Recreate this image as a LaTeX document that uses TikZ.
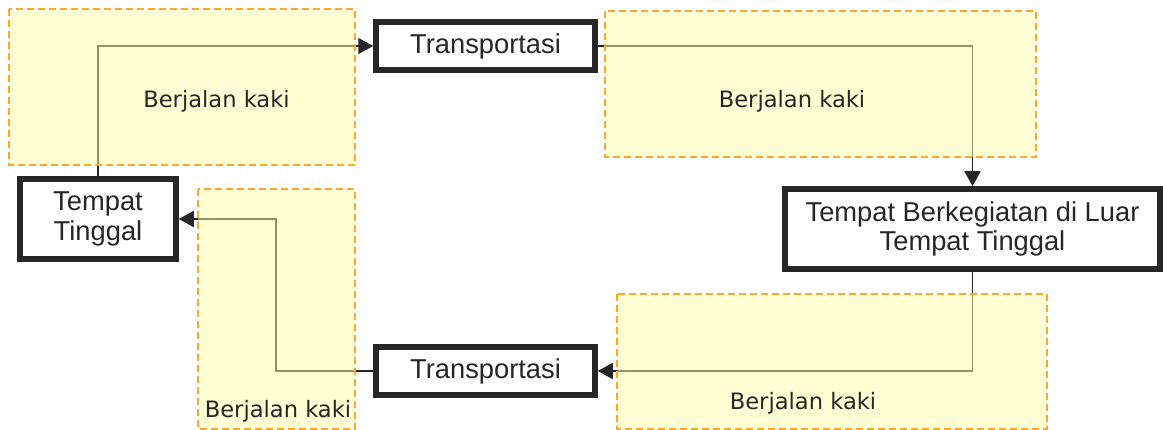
\documentclass[tikz,border=0pt]{standalone}
\usepackage{fontspec}
\setmainfont{Liberation Sans}
\newfontfamily\walkfont{DejaVu Sans}
\usetikzlibrary{arrows.meta}

\definecolor{ink}{HTML}{262626}
\definecolor{dashorange}{HTML}{FFA530}
\definecolor{walkfill}{HTML}{FFFFAA}

\pgfdeclarelayer{lines}
\pgfdeclarelayer{zones}
\pgfsetlayers{lines,zones,main}

\tikzset{
  stage/.style={draw=ink, line width=5.5pt, fill=white, text=ink,
    font=\fontsize{27.3}{29.5}\selectfont, align=center, inner sep=0pt},
  flow/.style={draw=ink, line width=1.8pt, -{Triangle[length=15pt,width=16pt]}},
  walkzone/.style={draw=dashorange, line width=1.8pt, dash pattern=on 7pt off 4pt,
    fill=walkfill, fill opacity=0.5},
  walklabel/.style={text=ink, font=\walkfont\fontsize{22.6}{26}\selectfont, inner sep=0pt},
}

\begin{document}
\begin{tikzpicture}[x=1pt,y=-1pt]
\useasboundingbox (0,0) rectangle (1163,430);

% places and means of travel
\node[stage, minimum width=219pt, minimum height=48pt] (t1) at (485.5,46) {Transportasi};
\node[stage, minimum width=219pt, minimum height=48pt] (t2) at (485.5,371) {Transportasi};
\node[stage, minimum width=156pt, minimum height=80pt] (tt) at (98,219) {Tempat\\Tinggal};
\node[stage, minimum width=375pt, minimum height=80pt] (tb) at (972.5,229)
  {Tempat Berkegiatan di Luar\\Tempat Tinggal};
\coordinate (bend) at (276,219);

% trip connectors, kept beneath the walking zones
\begin{pgfonlayer}{lines}
  \draw[flow] (tt.north) |- (t1.west);
  \draw[flow] (t1.east) -| (tb.north);
  \draw[flow] (tb.south) |- (t2.east);
  \draw[flow] (t2.west) -| (bend) -- (tt.east);
\end{pgfonlayer}

% walking zones
\begin{pgfonlayer}{zones}
  \draw[walkzone] (9,9) rectangle (355,165);
  \draw[walkzone] (605,11) rectangle (1036,157);
  \draw[walkzone] (198,189) rectangle (355,429);
  \draw[walkzone] (617,294) rectangle (1047,429);
\end{pgfonlayer}

\node[walklabel] (w1) at (216.5,101) {Berjalan kaki};
\node[walklabel] (w2) at (792,101) {Berjalan kaki};
\node[walklabel] (w3) at (278,411) {Berjalan kaki};
\node[walklabel] (w4) at (803,403) {Berjalan kaki};
\end{tikzpicture}
\end{document}
